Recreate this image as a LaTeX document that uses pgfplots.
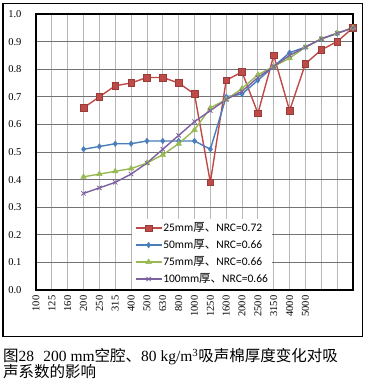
\documentclass[border=0pt]{standalone}
\usepackage{pgfplots}
\pgfplotsset{compat=1.18}
\usepackage{pgfplotstable}
\usepackage{fontspec}
\setmainfont{Liberation Serif}
\newfontfamily\cjk{Noto Sans CJK SC}
\newfontfamily\leg{Carlito}
\definecolor{cred}{HTML}{BE4B48}
\definecolor{cblue}{HTML}{4A7EBB}
\definecolor{cgreen}{HTML}{98B954}
\definecolor{cpurple}{HTML}{7D60A0}
\newcommand\C[1]{{\cjk #1}}

\pgfplotstableread{
x y
3 0.66
4 0.70
5 0.74
6 0.75
7 0.77
8 0.77
9 0.75
10 0.71
11 0.39
12 0.76
13 0.79
14 0.64
15 0.85
16 0.65
17 0.82
18 0.87
19 0.90
20 0.95
}\redtab
\pgfplotstableread{
x y
3 0.51
4 0.52
5 0.53
6 0.53
7 0.54
8 0.54
9 0.54
10 0.54
11 0.51
12 0.70
13 0.71
14 0.76
15 0.81
16 0.86
17 0.88
18 0.91
19 0.93
20 0.95
}\bluetab
\pgfplotstableread{
x y
3 0.41
4 0.42
5 0.43
6 0.44
7 0.46
8 0.49
9 0.53
10 0.58
11 0.66
12 0.69
13 0.73
14 0.78
15 0.81
16 0.84
17 0.88
18 0.91
19 0.93
20 0.95
}\greentab
\pgfplotstableread{
x y
3 0.35
4 0.37
5 0.39
6 0.42
7 0.46
8 0.51
9 0.56
10 0.61
11 0.65
12 0.69
13 0.72
14 0.77
15 0.81
16 0.85
17 0.88
18 0.91
19 0.93
20 0.95
}\purpletab

\begin{document}
\begin{tikzpicture}[x=1pt,y=1pt]
\useasboundingbox (0,0) rectangle (365,384);
\draw[line width=1pt] (3,47) rectangle (362,380);
\begin{axis}[
  at={(36pt,94pt)}, anchor=south west,
  width=317pt, height=276pt, scale only axis,
  xmin=0, xmax=20, ymin=0, ymax=1,
  xtick={0,...,20},
  xticklabels={100,125,160,200,250,315,400,500,630,800,1000,1250,1600,2000,2500,3150,4000,5000,,,},
  ytick={0,0.1,...,1.0},
  yticklabel style={/pgf/number format/fixed, /pgf/number format/fixed zerofill, /pgf/number format/precision=1, xshift=-11pt},
  /pgf/number format/assume math mode=true,
  ticklabel style={font=\fontsize{10.5}{12}\selectfont},
  xticklabel style={yshift=-2pt, rotate=90, anchor=east},
  major tick length=0pt,
  xmajorgrids, ymajorgrids,
  x grid style={color=black!28, line width=0.8pt},
  y grid style={color=black!55, line width=0.8pt},
  axis line style={black, line width=1.3pt},
  legend style={draw=none, fill=white, font=\leg\fontsize{11.5}{13}\selectfont,
    at={(rel axis cs:0.302,0.132)}, anchor=west,
    nodes={inner sep=1pt, text height=8.5pt, text depth=2.5pt},
    row sep=4pt, inner xsep=3pt, inner ysep=3pt},
  legend cell align=left,
  legend image code/.code={\draw[mark repeat=2,mark phase=2,#1] plot coordinates {(0pt,0pt) (13pt,0pt) (26pt,0pt)};},
]
\addplot[color=cred, line width=1.4pt, mark=square*, mark size=3.3pt, mark options={fill=cred, draw=cred!80!black, line width=0.5pt}] table[x=x,y=y] {\redtab};
\addlegendentry{25mm\C{厚、}NRC=0.72}
\addplot[color=cblue, line width=1.4pt, mark=diamond*, mark size=2.8pt, mark options={fill=cblue, draw=cblue, line width=0.5pt}] table[x=x,y=y] {\bluetab};
\addlegendentry{50mm\C{厚、}NRC=0.66}
\addplot[color=cgreen, line width=1.4pt, mark=triangle*, mark size=3.2pt, mark options={fill=cgreen, draw=cgreen, line width=0.5pt}] table[x=x,y=y] {\greentab};
\addlegendentry{75mm\C{厚、}NRC=0.66}
\addplot[color=cpurple, line width=1.4pt, mark=x, mark size=3pt, mark options={draw=cpurple, line width=0.8pt}] table[x=x,y=y] {\purpletab};
\addlegendentry{100mm\C{厚、}NRC=0.66}
\end{axis}
\node[anchor=base west, inner sep=0pt, font=\fontsize{15.5}{17}\selectfont] at (3,22.5) {\C{图}28\hspace{0.6em}200 mm\C{空腔、}80 kg/m\textsuperscript{3}\C{吸声棉厚度变化对吸}};
\node[anchor=base west, inner sep=0pt, font=\fontsize{15.5}{17}\selectfont] at (3,6) {\C{声系数的影响}};
\end{tikzpicture}
\end{document}
